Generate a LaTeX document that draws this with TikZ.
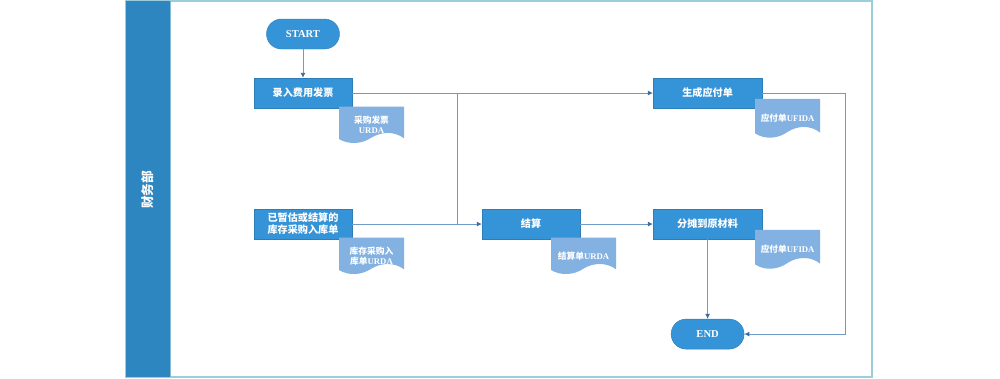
\documentclass[tikz,border=0pt]{standalone}
\usepackage{fontspec}
\setmainfont{Noto Sans CJK SC}
\newfontfamily\latfont{Liberation Serif}
\usetikzlibrary{positioning, arrows.meta, calc}

\definecolor{boxblue}{HTML}{3594D8}
\definecolor{docblue}{HTML}{82B1E2}
\definecolor{laneblue}{HTML}{2E86C1}
\definecolor{framecol}{HTML}{9CCDDD}
\definecolor{linecol}{HTML}{6E9CC6}
\definecolor{tipcol}{HTML}{3D6E9E}

\tikzset{
  process/.style={rectangle, fill=boxblue, draw=boxblue!85!black, line width=0.3pt,
    minimum width=2.45cm, minimum height=0.75cm, inner sep=1pt, align=center,
    text=white, font=\bfseries\fontsize{7.2}{8.6}\selectfont},
  terminal/.style={rectangle, rounded corners=0.375cm, fill=boxblue, draw=boxblue!85!black,
    line width=0.3pt, minimum width=1.825cm, minimum height=0.75cm,
    text=white, font=\latfont\bfseries\fontsize{7.5}{9}\selectfont},
  docwave/.style={rectangle, minimum width=1.625cm, minimum height=0.92cm, inner sep=1pt,
    align=center, text=white, font=\bfseries\fontsize{6.2}{7.4}\selectfont,
    path picture={
      \fill[docblue] let \p1=(path picture bounding box.south west),
        \p2=(path picture bounding box.north east),
        \n1={\x2-\x1}, \n2={\y2-\y1} in
        (\x1,\y2) -- (\x2,\y2) -- (\x2,\y1+0.14*\n2)
        .. controls (\x1+0.85*\n1,\y1+0.34*\n2) and (\x1+0.65*\n1,\y1+0.32*\n2)
        .. (\x1+0.5*\n1,\y1+0.16*\n2)
        .. controls (\x1+0.35*\n1,\y1-0.02*\n2) and (\x1+0.15*\n1,\y1-0.04*\n2)
        .. (\x1,\y1+0.12*\n2) -- cycle;
    }},
  flow/.style={draw=linecol, line width=0.6pt, -{Latex[length=3.5pt,width=3.5pt,color=tipcol]}},
  plain/.style={draw=linecol, line width=0.6pt}
}

\begin{document}
\begin{tikzpicture}[x=0.025cm, y=-0.025cm, node distance=1.5cm, on grid]
    \useasboundingbox (0,0) rectangle (1000,378);
    % swimlane
    \draw[framecol, line width=0.8pt] (126,1) rectangle (872,377);
    \fill[laneblue] (126,1) rectangle (170,377);
    \draw[framecol!80!laneblue, line width=0.5pt] (170,1) -- (170,377);
    \node[rotate=90, text=white, font=\bfseries\small] (lane) at (148,190) {财务部};

    % main flow
    \node[terminal] (start) at (303,34) {START};
    \node[process, below=1.475cm of start] (rec1) {录入费用发票};
    \node[process, below=3.275cm of rec1] (rec2) {已暂估或结算的\\库存采购入库单};
    \node[process, right=5.7cm of rec2] (settle) {结算};
    \node[process, minimum width=2.725cm, right=4.4125cm of settle] (alloc) {分摊到原材料};
    \node[process, minimum width=2.725cm, above=3.275cm of alloc] (gen) {生成应付单};
    \node[terminal, below=2.75cm of alloc] (end) {END};

    % documents
    \node[docwave, below right=0.8cm and 1.7125cm of rec1] (doc1) {采购发票\\{\latfont URDA}};
    \node[docwave, below right=0.8cm and 1.7125cm of rec2] (doc2) {库存采购入\\库单{\latfont URDA}};
    \node[docwave, below right=0.8cm and 1.3125cm of settle] (doc3) {结算单{\latfont URDA}};
    \node[docwave, minimum height=0.98cm, below right=0.6375cm and 2cm of gen] (doc4) {应付单{\latfont UFIDA}};
    \node[docwave, minimum height=0.98cm, below right=0.6375cm and 2cm of alloc] (doc5) {应付单{\latfont UFIDA}};

    % connectors
    \coordinate[right=3.85cm of rec1] (join);
    \coordinate[right=3.4375cm of gen] (turn);
    \draw[flow] (start) -- (rec1);
    \draw[flow] (rec1) -- (gen);
    \draw[plain] (join) -- (join |- rec2);
    \draw[flow] (rec2) -- (settle);
    \draw[flow] (settle) -- (alloc);
    \draw[flow] (alloc) -- (end);
    \draw[flow] (gen.east) -- (turn) |- (end.east);
\end{tikzpicture}
\end{document}
